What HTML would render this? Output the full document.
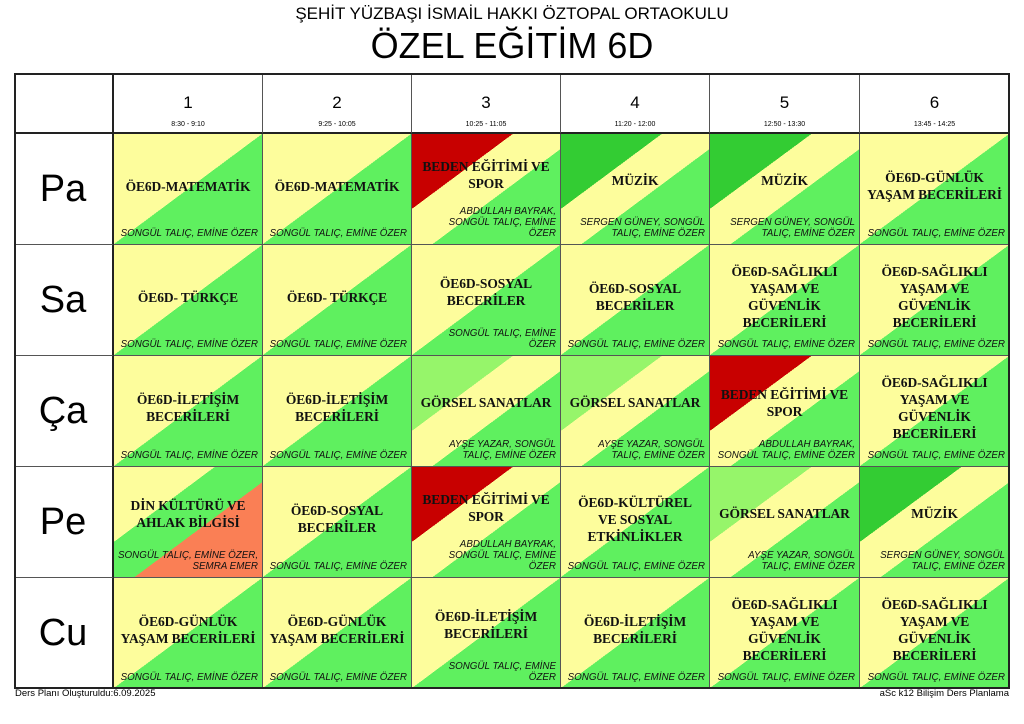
<!DOCTYPE html>
<html><head><meta charset="utf-8"><style>
body{margin:0;width:1024px;height:724px;background:#fff;position:relative;overflow:hidden;font-family:"Liberation Sans",sans-serif;}
.t1{position:absolute;left:0;width:1024px;top:4px;text-align:center;font-size:17px;}
.t2{position:absolute;left:0;width:1024px;top:24px;text-align:center;font-size:36px;line-height:44px;}
.c{position:absolute;box-sizing:border-box;border-right:1px solid #555;border-bottom:1px solid #555;display:flex;flex-direction:column;}
.s{flex:1;display:flex;align-items:center;justify-content:center;text-align:center;font-family:"Liberation Serif",serif;font-weight:bold;font-size:13.5px;letter-spacing:-0.1px;line-height:17px;padding:10px 2px 0 2px;color:#111;white-space:nowrap;}
.tc{text-align:right;font-style:italic;font-size:9.8px;line-height:11px;padding:0 4px 5px 4px;color:#111;white-space:nowrap;}
.day{position:absolute;box-sizing:border-box;border-right:2px solid #222;border-bottom:1px solid #555;display:flex;align-items:center;justify-content:center;font-size:38px;}
.h{position:absolute;box-sizing:border-box;border-right:1px solid #555;border-bottom:2px solid #222;text-align:center;}
.h b{display:block;font-weight:normal;font-size:17px;margin-top:20px;}
.h i{display:block;font-style:normal;font-size:7px;margin-top:8px;}
.frame{position:absolute;left:14px;top:73px;width:996px;height:616px;box-sizing:border-box;border:2px solid #222;pointer-events:none;}
.f{position:absolute;top:688px;font-size:9.5px;}
</style></head><body>
<div class="t1">ŞEHİT YÜZBAŞI İSMAİL HAKKI ÖZTOPAL ORTAOKULU</div>
<div class="t2">ÖZEL EĞİTİM 6D</div>
<div id="g"></div>
<div class="frame"></div>
<div class="f" style="left:15px">Ders Planı Oluşturuldu:6.09.2025</div>
<div class="f" style="right:15px">aSc k12 Bilişim Ders Planlama</div>
<script>
var X=[14,114,263,412,561,710,860,1010],Y=[73,134,245,356,467,578,689];
var times=["8:30 - 9:10","9:25 - 10:05","10:25 - 11:05","11:20 - 12:00","12:50 - 13:30","13:45 - 14:25"];
var days=["Pa","Sa","Ça","Pe","Cu"];
var Yl="#fdfd9c",G="#5ff05f";
var A="linear-gradient(to bottom right,"+Yl+" 50%,"+G+" 50%)";
function three(a,b,c){return "linear-gradient(to bottom right,"+a+" 34%,"+b+" 34%,"+b+" 57%,"+c+" 57%)";}
var RED=three("#c80000",Yl,G),MUZ=three("#33cc33",Yl,G),GOR=three("#96f56a",Yl,G),DIN=three(Yl,G,"#fa7f55");
var ST="SONGÜL TALIÇ, EMİNE ÖZER";
var BD=["BEDEN EĞİTİMİ VE<br>SPOR","",RED];
var MZ=["MÜZİK","",MUZ];
var GS=["GÖRSEL SANATLAR","",GOR];
var SAG=["ÖE6D-SAĞLIKLI<br>YAŞAM VE<br>GÜVENLİK<br>BECERİLERİ",ST,A];
var IL=["ÖE6D-İLETİŞİM<br>BECERİLERİ",ST,A];
var GU=["ÖE6D-GÜNLÜK<br>YAŞAM BECERİLERİ",ST,A];
var SO=["ÖE6D-SOSYAL<br>BECERİLER",ST,A];
var data=[
[["ÖE6D-MATEMATİK",ST,A],["ÖE6D-MATEMATİK",ST,A],BD,MZ,MZ,GU],
[["ÖE6D- TÜRKÇE",ST,A],["ÖE6D- TÜRKÇE",ST,A],["ÖE6D-SOSYAL<br>BECERİLER","SONGÜL TALIÇ, EMİNE<br>ÖZER",A],SO,SAG,SAG],
[IL,IL,GS,GS,BD,SAG],
[["DİN KÜLTÜRÜ VE<br>AHLAK BİLGİSİ","SONGÜL TALIÇ, EMİNE ÖZER,<br>SEMRA EMER",DIN],SO,BD,["ÖE6D-KÜLTÜREL<br>VE SOSYAL<br>ETKİNLİKLER",ST,A],GS,MZ],
[GU,GU,["ÖE6D-İLETİŞİM<br>BECERİLERİ","SONGÜL TALIÇ, EMİNE<br>ÖZER",A],IL,SAG,SAG]];
var h="";
h+='<div class="h" style="left:14px;top:73px;width:100px;height:61px;border-right:2px solid #222"></div>';
for(var j=0;j<6;j++)h+='<div class="h" style="left:'+X[j+1]+'px;top:73px;width:'+(X[j+2]-X[j+1])+'px;height:61px"><b>'+(j+1)+'</b><i>'+times[j]+'</i></div>';
for(var i=0;i<5;i++){
 h+='<div class="day" style="left:14px;top:'+Y[i+1]+'px;width:100px;height:'+(Y[i+2]-Y[i+1])+'px">'+days[i]+'</div>';
 for(var j=0;j<6;j++){var d=data[i][j];
  var tc=d[1];
  if(d==BD)tc=(j==2?"ABDULLAH BAYRAK,<br>SONGÜL TALIÇ, EMİNE<br>ÖZER":"ABDULLAH BAYRAK,<br>SONGÜL TALIÇ, EMİNE ÖZER");
  if(d==MZ)tc="SERGEN GÜNEY, SONGÜL<br>TALIÇ, EMİNE ÖZER";
  if(d==GS)tc="AYŞE YAZAR, SONGÜL<br>TALIÇ, EMİNE ÖZER";
  h+='<div class="c" style="left:'+X[j+1]+'px;top:'+Y[i+1]+'px;width:'+(X[j+2]-X[j+1])+'px;height:'+(Y[i+2]-Y[i+1])+'px;background:'+d[2]+'"><div class="s"><span>'+d[0]+'</span></div><div class="tc">'+tc+'</div></div>';
 }}
document.getElementById('g').innerHTML=h;
</script>
</body></html>
